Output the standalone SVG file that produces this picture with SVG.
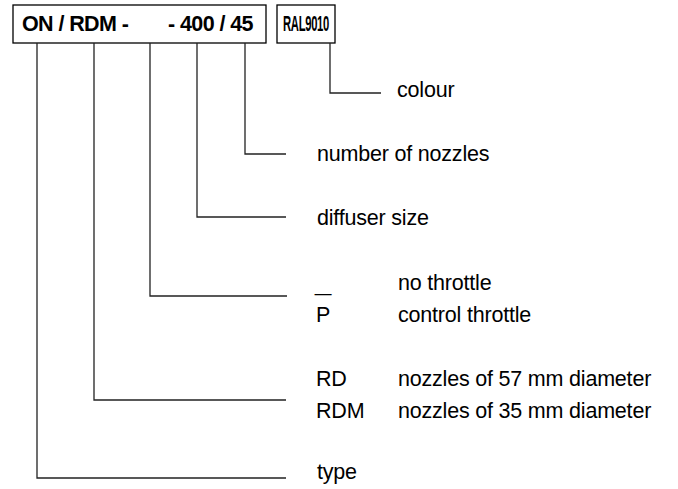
<svg xmlns="http://www.w3.org/2000/svg" width="678" height="489" viewBox="0 0 678 489">
<style>
.box{fill:#fff;stroke:#000;stroke-width:1.3}
.ln{fill:none;stroke:#222;stroke-width:1.3}
.t{font-family:"Liberation Sans",Arial,sans-serif;font-size:21.5px;fill:#000;letter-spacing:-0.2px}
.b{font-family:"Liberation Sans",Arial,sans-serif;font-size:21.5px;font-weight:bold;fill:#000;letter-spacing:-0.6px}
</style>
<rect width="678" height="489" fill="#fff"/>
<g id="code">
<rect class="box" x="13" y="5" width="253" height="38"/>
<text class="b" y="31"><tspan x="22">ON / RDM -</tspan><tspan x="168">- 400 / 45</tspan></text>
</g>
<g id="ral">
<rect class="box" x="277" y="5" width="58" height="38"/>
<text class="b" x="283" y="31" textLength="46" lengthAdjust="spacingAndGlyphs">RAL9010</text>
</g>
<g id="connectors">
<polyline class="ln" points="330,43 330,93 381,93"/>
<polyline class="ln" points="245,43 245,154 286,154"/>
<polyline class="ln" points="197,43 197,217 286,217"/>
<polyline class="ln" points="150,43 150,296 287,296"/>
<polyline class="ln" points="94,43 94,400 286,400"/>
<polyline class="ln" points="37,43 37,478 286,478"/>
</g>
<g id="colour"><text class="t" x="397" y="97">colour</text></g>
<g id="nozzles"><text class="t" x="317" y="161">number of nozzles</text></g>
<g id="diffuser"><text class="t" x="317" y="225">diffuser size</text></g>
<g id="throttle">
<text class="t" x="315" y="291" textLength="16" lengthAdjust="spacingAndGlyphs">_</text>
<text class="t" x="398" y="290">no throttle</text>
<text class="t" x="316" y="322">P</text>
<text class="t" x="398" y="322">control throttle</text>
</g>
<g id="nozzle-size">
<text class="t" x="316" y="386">RD</text>
<text class="t" x="398" y="386">nozzles of 57 mm diameter</text>
<text class="t" x="316" y="418">RDM</text>
<text class="t" x="398" y="418">nozzles of 35 mm diameter</text>
</g>
<g id="type"><text class="t" x="317" y="479">type</text></g>
</svg>
